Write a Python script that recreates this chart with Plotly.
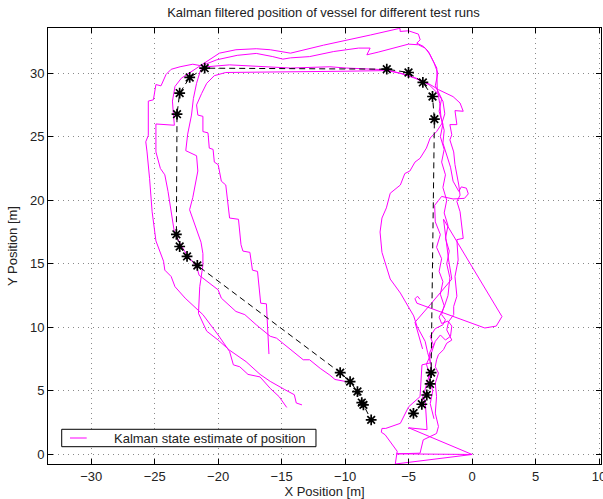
import plotly.graph_objects as go

# ---------------- data (metres) ----------------
run1_x = [0, -5.95, -4.1, -3.85, -2.8, -2.65, -2.9, -2.8, -2.9, -2.65, -2.9, -2.8, -2.65, -2.25, -2.0, -1.6, -2.0, -1.85, -1.45, -1.45, -1.2, -1.35, -1.1, -1.2, -0.7, -0.8, -0.95, -1.2, -0.95, -1.05, -1.2, -1.35, -1.45, -1.75, -1.6, -1.75, -1.2, -1.35, -0.7, -0.95, -1.5, -2.0, -2.65, -3.3, -4.4, -5.7, -6.7, -9.9, -11.2, -14.3, -19.1, -20.9, -22.0, -23.0, -23.7, -24.1, -24.5, -24.9, -25.1, -25.5, -25.5, -25.7, -25.6, -25.4, -25.2, -24.9, -24.3, -24.2, -23.7, -23.4, -22.6, -21.2, -20.0, -19.1, -18.8, -18.3, -17.65, -16.7, -15.9, -15.2, -14.6]
run1_y = [0, 0.05, 0.1, 1.15, 1.65, 2.2, 3.25, 4.55, 5.6, 6.4, 6.9, 7.45, 7.85, 8.25, 8.75, 9.0, 9.8, 10.45, 11.0, 11.65, 12.45, 14.0, 15.3, 16.9, 17.0, 18.05, 19.1, 19.9, 20.4, 21.2, 22.0, 22.8, 23.8, 24.75, 25.15, 25.95, 25.95, 27.05, 27.0, 27.65, 28.15, 28.4, 28.7, 29.1, 29.6, 30.0, 30.26, 30.4, 30.5, 30.4, 30.65, 30.5, 30.7, 30.5, 30.3, 29.9, 29.0, 29.1, 27.9, 27.8, 25.1, 24.6, 23.8, 21.7, 19.1, 16.8, 15.2, 14.5, 14.0, 13.2, 12.3, 11.0, 9.4, 8.1, 7.05, 6.9, 6.3, 6.1, 5.2, 4.55, 3.7]

run2_x = [0, -6.05, -5.9, -6.85, -7.15, -7.1, -6.8, -5.65, -5.0, -4.1, -3.95, -3.3, -3.35, -3.05, -3.3, -2.9, -2.3, -2.1, -2.4, -2.2, -2.5, -2.3, -2.6, -2.4, -2.8, -2.5, -2.9, -2.95, -2.4, -1.5, -0.6, -0.3, -0.45, -0.85, -1.05, -1.5, -1.7, -2.0, -2.3, -2.2, -2.45, -2.55, -2.75, -2.78, -3.18, -3.44, -3.83, -4.36, -4.09, -4.23, -5.01, -5.67, -5.67, -5.8, -8.0, -11.7, -14.3, -15.9, -17.0, -18.6, -19.9, -20.7, -21.5, -22.1, -22.9, -23.4, -23.6, -23.55, -23.45, -24.9, -24.9, -24.55, -24.2, -23.95, -23.7, -23.45, -23.0, -22.4, -21.7, -21.5, -20.0, -19.75, -18.6, -17.9, -17.0, -15.9, -15.4, -13.3, -12.8, -11.96, -11.2, -10.8, -10.0]
run2_y = [0, -0.75, 0.25, 1.55, 1.75, 2.05, 2.05, 2.45, 3.75, 4.55, 7.05, 7.2, 8.0, 8.6, 9.3, 9.9, 10.2, 10.6, 11.0, 11.7, 12.6, 13.6, 14.4, 15.4, 16.3, 17.3, 18.3, 19.6, 20.3, 20.1, 20.15, 20.5, 20.95, 21.05, 20.7, 21.5, 22.6, 23.6, 24.5, 25.5, 26.5, 27.6, 28.8, 30.4, 31.18, 31.7, 32.1, 32.36, 32.62, 33.07, 33.33, 33.28, 33.5, 33.5, 33.0, 32.2, 31.57, 31.84, 31.92, 31.84, 31.57, 31.05, 30.5, 30.1, 29.6, 28.95, 27.8, 27.1, 25.9, 26.0, 23.8, 22.5, 22.0, 20.7, 19.1, 17.5, 16.6, 15.6, 14.8, 14.1, 12.95, 12.3, 11.25, 11.0, 10.2, 9.3, 9.15, 7.45, 7.45, 6.77, 6.24, 5.9, 5.75]

run3_x = [0, -5.0, -3.55, -3.7, -3.95, -3.6, -3.35, -3.6, -3.2, -2.9, -2.5, -2.1, -1.7, -1.6, -1.9, -2.4, -2.6, -2.2, -1.9, -1.75, -2.0, -1.8, -2.1, -1.9, -2.2, -2.0, -2.3, -2.1, -2.4, -2.2, -2.5, -2.3, -2.6, -2.4, -2.9, -2.7, -3.0, -3.35, -3.7, -4.23, -5.01, -7.4, -8.29, -8.03, -8.95, -10.9, -12.8, -14.3, -14.9, -15.7, -17.0, -18.5, -20.1, -21.0, -21.4, -21.7, -21.95, -22.1, -22.4, -22.55, -21.7, -21.6, -22.0, -22.25, -21.85, -21.35, -21.2, -21.2, -21.45, -21.55, -20.9, -20.0, -19.1, -17.8, -16.7, -15.9, -14.75, -14.0, -13.85, -13.4]
run3_y = [0, 2.1, 1.95, 4.3, 4.3, 5.4, 6.3, 7.1, 8.0, 8.9, 9.4, 9.0, 9.3, 10.1, 10.5, 10.3, 10.8, 11.6, 12.5, 13.9, 15.0, 16.0, 17.0, 18.0, 19.0, 20.0, 21.0, 22.0, 23.0, 24.0, 25.0, 26.0, 27.0, 28.0, 29.0, 30.0, 30.8, 31.5, 31.97, 32.23, 32.28, 31.65, 31.44, 31.97, 31.97, 31.7, 31.3, 31.2, 31.1, 31.3, 31.55, 31.4, 31.05, 30.7, 30.2, 29.2, 28.0, 26.7, 25.2, 23.9, 23.5, 22.3, 20.2, 19.25, 18.05, 16.7, 15.8, 14.9, 13.2, 11.1, 9.7, 9.0, 8.2, 7.3, 6.3, 5.75, 5.1, 4.7, 4.05, 3.9]

run4_x = [-3.0, -3.3, -3.1, -3.4, -3.2, -3.5, -3.7, -4.35, -4.6, -5.65, -6.45, -7.1, -7.25, -7.1, -6.75, -6.45, -5.65, -5.3, -4.9, -4.5, -4.1, -3.6, -3.3, -2.8, -2.4, -2.15, -2.3, -2.7, -3.4, -4.5, -5.5, -6.7, -10.0, -14.3, -19.4, -20.3, -20.9, -21.3, -21.7, -21.6, -21.2, -21.2, -20.8, -20.7, -20.4, -20.3, -20.0, -19.9, -19.75, -19.4, -19.1, -18.4, -18.2, -18.05, -17.5, -17.3, -16.9, -16.65, -16.2, -16.0]
run4_y = [2.8, 4.0, 5.0, 6.0, 7.0, 8.0, 8.9, 10.1, 10.9, 12.7, 13.8, 15.9, 17.5, 18.6, 19.4, 20.55, 21.2, 22.1, 22.3, 23.0, 23.3, 24.1, 24.9, 25.4, 26.0, 26.8, 27.8, 28.4, 29.1, 29.6, 29.95, 30.2, 30.15, 30.13, 30.05, 29.8, 29.2, 28.4, 27.5, 26.7, 26.6, 25.4, 25.3, 24.1, 24.0, 23.0, 22.8, 22.3, 21.5, 21.2, 18.6, 18.5, 16.5, 16.0, 15.9, 14.5, 14.4, 11.9, 11.85, 7.9]

run5_x = [-3.9, -4.5, -3.2, -1.6, -1.85, -2.25, 2.35, 1.9, 1.0, -4.1, -4.35, -4.5, -4.3, -4.1]
run5_y = [8.3, 10.4, 11.9, 13.8, 15.3, 18.5, 10.85, 10.1, 9.95, 11.75, 11.9, 12.25, 12.45, 12.2]

runs = [(run1_x, run1_y), (run2_x, run2_y), (run3_x, run3_y), (run4_x, run4_y), (run5_x, run5_y)]

waypoint_x = [-4.62, -3.96, -3.57, -3.31, -3.23, -2.97, -3.12, -3.88, -5.01, -6.72, -21.06, -22.24, -23.03, -23.24, -23.29, -23.03, -22.45, -21.64, -10.39, -9.61, -9.03, -8.69, -8.56, -7.95]
waypoint_y = [3.24, 3.95, 4.68, 5.55, 6.44, 26.38, 28.16, 29.27, 30.05, 30.31, 30.39, 29.66, 28.43, 26.77, 17.32, 16.36, 15.58, 14.87, 6.44, 5.73, 4.95, 4.08, 3.90, 2.72]

x_ticks = [-30, -25, -20, -15, -10, -5, 0, 5, 10]
y_ticks = [0, 5, 10, 15, 20, 25, 30]
x_range = [-33.4, 10.15]
y_range = [-0.75, 33.55]

legend_label = "Kalman state estimate of position"
title_text = "Kalman filtered position of vessel for different test runs"
x_title = "X Position [m]"
y_title = "Y Position [m]"

# ---------------- figure ----------------
FONT = "Liberation Sans, Arial, Helvetica, sans-serif"
TXT = "#222"
fig = go.Figure()

for i, (rx, ry) in enumerate(runs):
    fig.add_trace(go.Scatter(
        x=rx, y=ry, mode="lines",
        line=dict(color="#ff00ff", width=1),
        name=legend_label, legendgroup="runs", showlegend=False,
        hoverinfo="skip"))

fig.add_trace(go.Scatter(
    x=waypoint_x, y=waypoint_y, mode="lines+markers",
    line=dict(color="black", width=1, dash="6px,4px"),
    marker=dict(symbol="asterisk-open", size=9, color="black",
                line=dict(color="black", width=1.7)),
    showlegend=False, hoverinfo="skip"))

axis_common = dict(
    showline=True, linecolor="black", linewidth=1, mirror="ticks",
    ticks="inside", ticklen=5, tickcolor="black", tickwidth=1,
    showgrid=True, gridcolor="#8a8a8a", gridwidth=1, griddash="1px,4px",
    zeroline=False, tickfont=dict(family=FONT, size=13, color=TXT),
    title_font=dict(family=FONT, size=13, color=TXT),
    ticklabeloverflow="allow", automargin=False,
)

# legend box drawn in paper coordinates (MATLAB-style compact legend)
leg_x0, leg_x1, leg_y0, leg_y1 = 0.0248, 0.4846, 0.0397, 0.0796
leg_line_x0, leg_line_x1, leg_mid = 0.0398, 0.0700, 0.0596
leg_text_x = 0.1152

fig.update_layout(
    width=603, height=499,
    margin=dict(l=48, r=2, t=28, b=35, autoexpand=False),
    paper_bgcolor="white", plot_bgcolor="white",
    title=dict(text=title_text, x=0.5365, xanchor="center", y=0.976, yanchor="middle",
               font=dict(family=FONT, size=13, color=TXT)),
    xaxis=dict(range=x_range, tickvals=x_ticks, title=dict(text=x_title, standoff=3), **axis_common),
    yaxis=dict(range=y_range, tickvals=y_ticks, title=dict(text=y_title, standoff=9), **axis_common),
    showlegend=False,
    shapes=[
        dict(type="rect", xref="paper", yref="paper", x0=leg_x0, x1=leg_x1, y0=leg_y0, y1=leg_y1,
             line=dict(color="black", width=1), fillcolor="white", layer="above"),
        dict(type="line", xref="paper", yref="paper", x0=leg_line_x0, x1=leg_line_x1,
             y0=leg_mid, y1=leg_mid, line=dict(color="#ff00ff", width=1), layer="above"),
    ],
    annotations=[
        dict(text=legend_label, xref="paper", yref="paper", x=leg_text_x, y=leg_mid,
             xanchor="left", yanchor="middle", showarrow=False,
             font=dict(family=FONT, size=13, color=TXT)),
    ],
)

fig.write_html("out.html", config={"displayModeBar": False},
               post_script="document.body.style.margin='0';document.body.style.overflow='hidden';")
